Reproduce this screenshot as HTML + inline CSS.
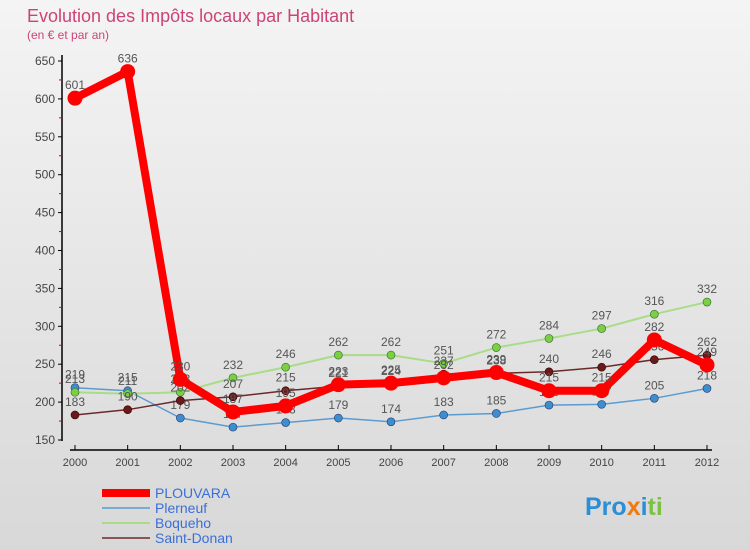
<!DOCTYPE html>
<html><head><meta charset="utf-8"><style>
body{margin:0}
#c{width:750px;height:550px;background:linear-gradient(#f4f4f4,#d8d8d8);font-family:"Liberation Sans",sans-serif;position:relative;overflow:hidden}
</style></head><body>
<div id="c">
<svg id="s" width="750" height="550" style="position:absolute;left:0;top:0">
<text x="27" y="22" font-size="18" fill="#cc4477">Evolution des Impôts locaux par Habitant</text>
<text x="27" y="39" font-size="12" fill="#cc4477">(en € et par an)</text>
<g id="ax"></g><g id="ser"></g><g id="lg"></g>
<text x="585" y="515" font-size="25" font-weight="bold"><tspan fill="#2a8ed8">Pro</tspan><tspan fill="#f07a10">x</tspan><tspan fill="#2a8ed8">i</tspan><tspan fill="#7cc242">ti</tspan></text>
</svg>
</div>
<script>
const years=[2000,2001,2002,2003,2004,2005,2006,2007,2008,2009,2010,2011,2012];
const yTicks=[150,200,250,300,350,400,450,500,550,600,650];
const plouvara=[601,636,230,187,195,223,225,232,239,215,215,282,249];
const plerneuf=[219,215,179,167,173,179,174,183,185,196,197,205,218];
const boqueho=[213,211,213,232,246,262,262,251,272,284,297,316,332];
const saintDonan=[183,190,202,207,215,221,224,237,238,240,246,256,262];
const NS="http://www.w3.org/2000/svg";
const X=i=>75+i*(707-75)/(years.length-1);
const Y=v=>440-(v-150)*(440-61)/500;
function mk(t,a,p){const e=document.createElementNS(NS,t);for(const k in a)e.setAttribute(k,a[k]);p.appendChild(e);return e;}
const ax=document.getElementById('ax');
let e=mk('line',{x1:62,y1:55,x2:62,y2:441,stroke:'#000','stroke-width':1.5},ax);


e=mk('line',{x1:70,y1:450,x2:712,y2:450,stroke:'#000','stroke-width':1.5},ax);


yTicks.forEach((v,i)=>{
 mk('line',{x1:58,y1:Y(v),x2:62,y2:Y(v),stroke:'#000'},ax);
 if(i<yTicks.length-1)mk('line',{x1:59,y1:Y(v+25),x2:62,y2:Y(v+25),stroke:'#d00'},ax);
 const t=mk('text',{x:55,y:Y(v)+4,'font-size':12,'text-anchor':'end',fill:'#444'},ax);t.textContent=v;
 
 
});
years.forEach((y,i)=>{
 mk('line',{x1:X(i),y1:445,x2:X(i),y2:450,stroke:'#000'},ax);
 const t=mk('text',{x:X(i),y:466,'font-size':11,'text-anchor':'middle',fill:'#444'},ax);t.textContent=y;
 
 
});
const ser=document.getElementById('ser');
const S=[
 {n:'Plerneuf',d:plerneuf,c:'#5b9bd0',f:'#3a8fd0',w:1.5,r:4,b:'#336'},
 {n:'Boqueho',d:boqueho,c:'#a8dc88',f:'#7ad040',w:2,r:4,b:'#363'},
 {n:'Saint-Donan',d:saintDonan,c:'#6a2a2a',f:'#6a1a1a',w:1.5,r:4,b:'#300'},
 {n:'PLOUVARA',d:plouvara,c:'#f00',f:'#f00',w:8,r:7.5,b:'none'}];
S.forEach(s=>{
 const g=mk('g',{},ser);
 
 
 mk('polyline',{points:s.d.map((v,i)=>X(i)+','+Y(v)).join(' '),fill:'none',stroke:s.c,'stroke-width':s.w,'stroke-linejoin':'round'},g);
 s.d.forEach((v,i)=>{
  const p=mk('circle',{cx:X(i),cy:Y(v),r:s.r,fill:s.f,stroke:s.b,'stroke-width':0.6},g);
  
  
  const t=mk('text',{x:X(i),y:Y(v)-9,'font-size':12,'text-anchor':'middle',fill:'#555'},g);t.textContent=v;
 });
});
const lg=document.getElementById('lg');
[S[3],S[0],S[1],S[2]].forEach((s,i)=>{
 const y=493+i*15;
 const l=mk('line',{x1:102,y1:y,x2:150,y2:y,stroke:s.c,'stroke-width':s.w},lg);
 
 
 const t=mk('text',{x:155,y:y+5,'font-size':14,fill:'#3a6fd8'},lg);t.textContent=s.n;
 
 
});
</script>
</body></html>
